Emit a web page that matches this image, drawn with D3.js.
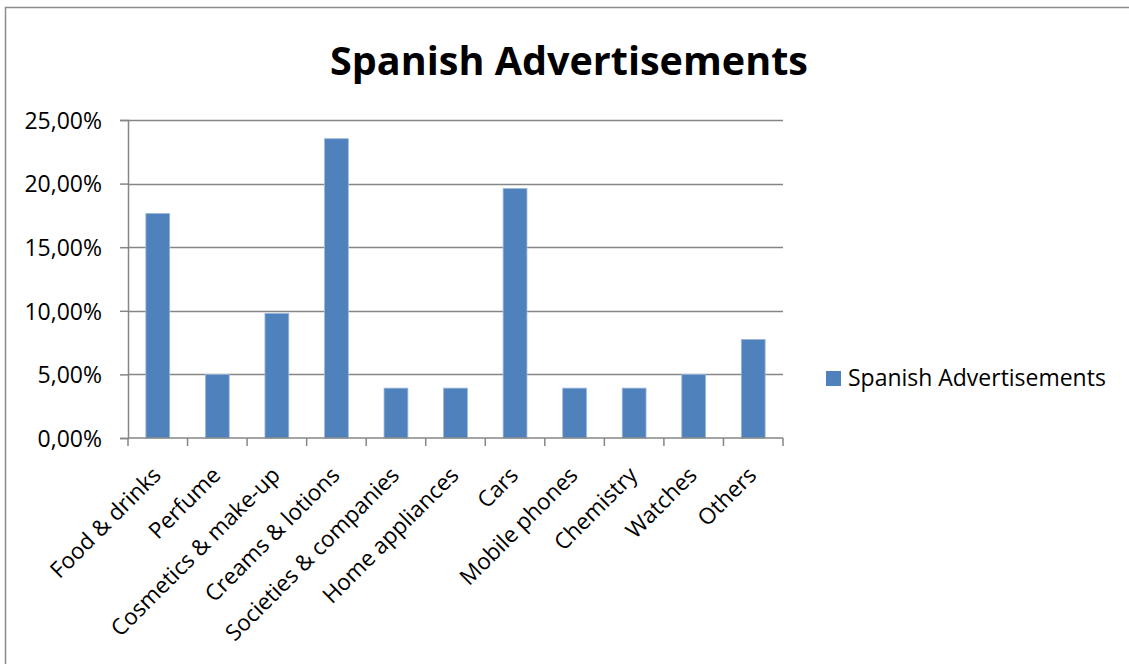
<!DOCTYPE html>
<html>
<head>
<meta charset="utf-8">
<script src="https://cdn.jsdelivr.net/npm/d3@7"></script>
<style>
  html, body { margin: 0; padding: 0; background: #fff; }
  svg { display: block; font-family: "Open Sans", "Noto Sans", sans-serif; }
</style>
</head>
<body>
<svg id="chart" width="1129" height="664"></svg>
<script>
// Share of Spanish advertisements by product category (percent)
const categories = [
  "Food & drinks", "Perfume", "Cosmetics & make-up", "Creams & lotions",
  "Societies & companies", "Home appliances", "Cars", "Mobile phones",
  "Chemistry", "Watches", "Others"
];
const values = [17.65, 5.00, 9.80, 23.53, 3.92, 3.92, 19.61, 3.92, 3.92, 5.00, 7.75];
const yTicks = [0, 5, 10, 15, 20, 25];
const seriesName = "Spanish Advertisements";
const chartTitle = "Spanish Advertisements";

const svg = d3.select("#chart");
const W = 1129, H = 664;
const plot = { left: 128, right: 783, top: 120, bottom: 438 };
const barColor = "#4F81BD";
const gridColor = "#868686";
const labelSize = 22.5;

// Outer chart frame
svg.append("rect")
  .attr("x", 5.5).attr("y", 7.5)
  .attr("width", W + 20).attr("height", H + 20)
  .attr("fill", "#fff").attr("stroke", "#8c8c8c").attr("stroke-width", 1.5);

// Grow/shrink a text's font size until its width matches the target
function fitWidth(sel, target) {
  const node = sel.node();
  const fs = parseFloat(sel.attr("font-size"));
  const w = node.getComputedTextLength();
  sel.attr("font-size", (fs * target / w).toFixed(2));
}

const x = d3.scaleBand().domain(categories)
  .range([plot.left, plot.right]).paddingInner(0.6).paddingOuter(0.3);
const y = d3.scaleLinear().domain([0, 25]).range([plot.bottom, plot.top]);

// Title
const title = svg.append("text")
  .attr("x", 569).attr("y", 75)
  .attr("text-anchor", "middle")
  .attr("font-weight", "bold").attr("font-size", 36)
  .attr("fill", "#000")
  .text(chartTitle);
fitWidth(title, 478);

// Horizontal gridlines
svg.append("g").selectAll("line").data(yTicks.filter(d => d > 0)).join("line")
  .attr("x1", plot.left).attr("x2", plot.right)
  .attr("y1", d => Math.round(y(d)) + 0.5).attr("y2", d => Math.round(y(d)) + 0.5)
  .attr("stroke", gridColor).attr("stroke-width", 1.5);

// Y axis
const fmt = d => d3.format(".2f")(d).replace(".", ",") + "%";
const yAxis = svg.append("g")
  .attr("transform", `translate(${plot.left},0)`)
  .call(d3.axisLeft(y).tickValues(yTicks).tickFormat(fmt).tickSize(8).tickPadding(18));
yAxis.attr("font-size", null).attr("font-family", null);
yAxis.select(".domain").attr("stroke", gridColor).attr("stroke-width", 1.5);
yAxis.selectAll(".tick line").attr("stroke", gridColor).attr("stroke-width", 1.5);
yAxis.selectAll(".tick text")
  .attr("font-size", 23).attr("fill", "#000")
  .attr("dy", "0.36em");

// Bars
svg.append("g").selectAll("rect").data(values).join("rect")
  .attr("x", (d, i) => x(categories[i]))
  .attr("width", x.bandwidth())
  .attr("y", d => y(d))
  .attr("height", d => y(0) - y(d))
  .attr("fill", barColor)
  .attr("stroke", "#9db7da").attr("stroke-width", 0.8);

// X axis with tick marks on category boundaries
const boundaries = d3.range(categories.length + 1).map(i => plot.left + i * (plot.right - plot.left) / categories.length);
const xAxis = svg.append("g");
xAxis.append("line")
  .attr("x1", plot.left).attr("x2", plot.right)
  .attr("y1", plot.bottom).attr("y2", plot.bottom)
  .attr("stroke", gridColor).attr("stroke-width", 1.5);
xAxis.selectAll("line.tk").data(boundaries).join("line").attr("class", "tk")
  .attr("x1", d => d).attr("x2", d => d)
  .attr("y1", plot.bottom).attr("y2", plot.bottom + 8)
  .attr("stroke", gridColor).attr("stroke-width", 1.5);

// Rotated category labels
xAxis.selectAll("text").data(categories).join("text")
  .attr("transform", d => `translate(${x(d) + x.bandwidth() / 2 - 1},${plot.bottom + 33}) rotate(-45)`)
  .attr("text-anchor", "end")
  .attr("dy", "0.35em")
  .attr("font-size", labelSize).attr("fill", "#000")
  .text(d => d);

// Legend
const legend = svg.append("g");
legend.append("rect")
  .attr("x", 826).attr("y", 371).attr("width", 15).attr("height", 15)
  .attr("fill", barColor);
const legText = legend.append("text")
  .attr("x", 848).attr("y", 386)
  .attr("font-size", 19.5).attr("fill", "#000")
  .text(seriesName);
fitWidth(legText, 258);
</script>
</body>
</html>
